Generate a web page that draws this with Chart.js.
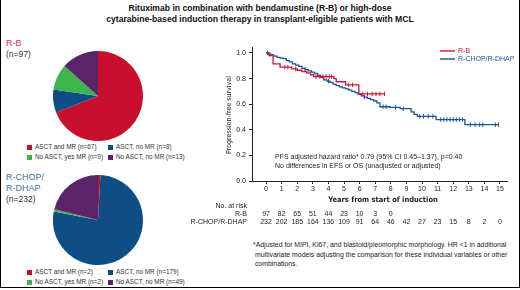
<!DOCTYPE html>
<html>
<head>
<meta charset="utf-8">
<script src="https://cdn.jsdelivr.net/npm/chart.js@4.4.0/dist/chart.umd.min.js"></script>
<style>
  body { margin: 0; width: 520px; height: 290px; position: relative; overflow: hidden; background: #fff;
         font-family: "Liberation Sans", Arial, sans-serif; color: #222; }
  .abs { position: absolute; white-space: nowrap; }
  .frame { position: absolute; left: 0; top: -2px; width: 518px; height: 289px;
           border-left: 1px solid #000; border-right: 1px solid #000; border-bottom: 1px solid #000; }
  .title { left: 0; width: 520px; text-align: center; font-weight: bold; font-size: 8.6px; color: #111; }
  .grp { font-size: 9px; line-height: 10.5px; }
  .leg { font-size: 6.4px; color: #333; line-height: 7px; }
  .leg i { display: inline-block; width: 5px; height: 5px; margin-right: 3px; vertical-align: -0.5px; }
  .note { font-size: 7px; color: #222; line-height: 9px; }
  canvas { position: absolute; }
</style>
</head>
<body>
<div class="frame"></div>
<div class="abs title" style="top:3px">Rituximab in combination with bendamustine (R-B) or high-dose</div>
<div class="abs title" style="top:14px">cytarabine-based induction therapy in transplant-eligible patients with MCL</div>

<div class="abs grp" style="left:6px;top:38px;color:#d0304f">R-B</div>
<div class="abs grp" style="left:6px;top:49px;color:#333;font-size:8.5px">(n=97)</div>

<div class="abs grp" style="left:6px;top:172px;color:#3a76a8">R-CHOP/</div>
<div class="abs grp" style="left:6px;top:183px;color:#3a76a8">R-DHAP</div>
<div class="abs grp" style="left:6px;top:194px;color:#333;font-size:8.5px">(n=232)</div>

<canvas id="pieRB" width="90" height="90" style="left:53px;top:51px"></canvas>
<canvas id="pieRC" width="90" height="90" style="left:53px;top:175px"></canvas>

<div id="legRB"></div>
<div id="legRC"></div>

<canvas id="km" width="340" height="190" style="left:180px;top:40px"></canvas>

<div class="abs note" style="left:275px;top:152px">PFS adjusted hazard ratio* 0.79 (95% CI 0.45–1.37), p=0.40</div>
<div class="abs note" style="left:275px;top:161px">No differences in EFS or OS (unadjusted or adjusted)</div>

<div class="abs note" style="left:253px;top:240px;font-size:6.9px;line-height:9.6px">*Adjusted for MIPI, Ki67, and blastoid/pleomorphic morphology. HR &lt;1 in additional<br>&nbsp;multivariate models adjusting the comparison for these individual variables or other<br>&nbsp;combinations.</div>

<script>
// pie data
const pieLabels = ['ASCT and MR', 'ASCT, no MR', 'No ASCT, yes MR', 'No ASCT, no MR'];
const pieColors = ['#c8102e', '#0f4d85', '#3cb64a', '#5b2469'];
const rbCounts = [67, 8, 9, 13];
const rcCounts = [2, 179, 2, 49];

// Kaplan-Meier steps
const rbTimes = [0, 0.2, 0.45, 0.9, 1.65, 2.0, 2.3, 2.6, 2.85, 3.05, 4.35, 4.5, 5.1, 5.95, 7.6];
const rbSurv  = [1.0, 0.98, 0.915, 0.89, 0.875, 0.865, 0.855, 0.845, 0.83, 0.815, 0.80, 0.775, 0.75, 0.68, 0.68];
const rbCensor = [1.2, 1.4, 1.9, 3.2, 3.45, 3.65, 3.85, 4.05, 4.2, 5.3, 5.55, 6.2, 6.5, 6.8, 7.05, 7.3, 7.6];

const rcTimes = [0, 0.15, 0.3, 0.5, 0.7, 0.9, 1.1, 1.3, 1.5, 1.7, 1.9, 2.1, 2.3, 2.5, 2.7, 2.9, 3.1, 3.3, 3.5,
                 3.7, 3.9, 4.1, 4.3, 4.5, 4.7, 4.9, 5.1, 5.3, 5.5, 5.7, 5.9, 6.1, 6.3, 6.5, 6.7, 6.9, 7.1, 7.3,
                 7.95, 8.6, 9.3, 9.5, 9.7, 10.9, 12.75, 14.9];
const rcSurv  = [1.0, 0.99, 0.985, 0.975, 0.965, 0.96, 0.955, 0.94, 0.93, 0.915, 0.905, 0.895, 0.88, 0.87, 0.86,
                 0.85, 0.84, 0.825, 0.81, 0.79, 0.78, 0.77, 0.755, 0.745, 0.735, 0.727, 0.72, 0.71, 0.70, 0.69,
                 0.676, 0.665, 0.655, 0.645, 0.635, 0.625, 0.61, 0.58, 0.575, 0.565, 0.54, 0.52, 0.505, 0.48, 0.44, 0.44];
const rcCensor = [0.1, 0.25, 2.5, 4.0, 6.3, 7.5, 7.7, 8.3, 8.8, 9.85, 10.1, 10.4, 10.7, 11.2, 11.4, 11.6, 11.8,
                  12.0, 12.2, 12.4, 12.6, 13.1, 13.4, 13.7, 13.9, 14.7, 14.9];

const yearTicks = [0, 1, 2, 3, 4, 5, 6, 7, 8, 9, 10, 11, 12, 13, 14, 15];
const survTicks = [0, 0.2, 0.4, 0.6, 0.8, 1.0];
const rbAtRisk = [97, 82, 65, 51, 44, 23, 10, 3, 0];
const rcAtRisk = [232, 202, 185, 164, 136, 109, 91, 64, 46, 42, 27, 23, 15, 8, 2, 0];

const kmRed = '#d2143a';
const kmBlue = '#1b5792';
const font = '"Liberation Sans", Arial, sans-serif';
const narrow = '"Liberation Sans Narrow", "DejaVu Sans Condensed", "Liberation Sans", sans-serif';

function makePie(id, counts) {
    new Chart(document.getElementById(id), {
        type: 'pie',
        data: { labels: pieLabels, datasets: [{ data: counts, backgroundColor: pieColors, borderWidth: 0 }] },
        options: {
            responsive: false, animation: false,
            plugins: { legend: { display: false }, tooltip: { enabled: false } }
        }
    });
}
makePie('pieRB', rbCounts);
makePie('pieRC', rcCounts);

// pie legends as html, two columns
function makeLegend(id, counts, top) {
    const el = document.getElementById(id);
    const cols = [27, 108];
    counts.forEach((n, i) => {
        const d = document.createElement('div');
        d.className = 'abs leg';
        d.style.left = cols[i % 2] + 'px';
        d.style.top = (top + Math.floor(i / 2) * 10) + 'px';
        d.innerHTML = '<i style="background:' + pieColors[i] + '"></i>' + pieLabels[i] + ' (n=' + n + ')';
        el.appendChild(d);
    });
}
makeLegend('legRB', rbCounts, 143);
makeLegend('legRC', rcCounts, 268);

function survAt(times, surv, t) {
    let s = surv[0];
    for (let i = 0; i < times.length; i++) { if (times[i] <= t) s = surv[i]; }
    return s;
}

const toPts = (ts, ss) => ts.map((t, i) => ({ x: t, y: ss[i] }));
const censorPts = (cs, ts, ss) => cs.map(t => ({ x: t, y: survAt(ts, ss, t) }));

// extra text round the plot: axis titles, legend, numbers at risk
const kmText = {
    id: 'kmText',
    afterDraw(chart) {
        const ctx = chart.ctx;
        const xs = chart.scales.x;
        ctx.save();
        ctx.fillStyle = '#222';
        ctx.textBaseline = 'middle';

        ctx.font = 'bold 7.5px ' + narrow;
        ctx.textAlign = 'center';
        ctx.fillText('Years from start of induction', xs.getPixelForValue(7.5), 160);

        ctx.save();
        ctx.translate(49, 75);
        ctx.rotate(-Math.PI / 2);
        ctx.font = '7px ' + narrow;
        ctx.fillText('Progression-free survival', 0, 0);
        ctx.restore();

        ctx.font = '7px ' + font;
        ctx.textAlign = 'right';
        ctx.fillText('No. at risk', 67, 166);
        ctx.fillText('R-B', 67, 174);
        ctx.fillText('R-CHOP/R-DHAP', 67, 182);
        ctx.textAlign = 'center';
        rbAtRisk.forEach((n, i) => ctx.fillText(String(n), xs.getPixelForValue(yearTicks[i]), 174));
        rcAtRisk.forEach((n, i) => ctx.fillText(String(n), xs.getPixelForValue(yearTicks[i]), 182));

        // legend
        ctx.lineWidth = 1.4;
        ctx.textAlign = 'left';
        [['R-B', kmRed, 11], ['R-CHOP/R-DHAP', kmBlue, 19]].forEach(([t, c, y]) => {
            ctx.strokeStyle = c;
            ctx.beginPath(); ctx.moveTo(260, y); ctx.lineTo(275, y); ctx.stroke();
            ctx.fillStyle = c;
            ctx.fillText(t, 278, y);
        });
        ctx.restore();
    }
};

new Chart(document.getElementById('km'), {
    type: 'line',
    data: {
        datasets: [
            { data: toPts(rbTimes, rbSurv), borderColor: kmRed, borderWidth: 1.3, stepped: true, pointRadius: 0 },
            { data: censorPts(rbCensor, rbTimes, rbSurv), showLine: false, borderColor: kmRed, borderWidth: 1,
              pointStyle: 'line', rotation: 90, pointRadius: 2.2 },
            { data: toPts(rcTimes, rcSurv), borderColor: kmBlue, borderWidth: 1.3, stepped: true, pointRadius: 0 },
            { data: censorPts(rcCensor, rcTimes, rcSurv), showLine: false, borderColor: kmBlue, borderWidth: 1,
              pointStyle: 'line', rotation: 90, pointRadius: 2.2 }
        ]
    },
    options: {
        responsive: false, animation: false,
        layout: { padding: { top: 3, right: 13, left: 0, bottom: 0 } },
        plugins: { legend: { display: false }, tooltip: { enabled: false } },
        scales: {
            x: {
                type: 'linear', min: -0.9, max: 15.45,
                afterBuildTicks: s => { s.ticks = yearTicks.map(v => ({ value: v })); },
                afterFit: s => { s.height = 49; },
                grid: { drawOnChartArea: false, drawTicks: true, tickLength: 3, color: '#222' },
                border: { display: true, color: '#222', width: 1 },
                ticks: { font: { size: 7, family: font }, color: '#222', padding: 1, maxRotation: 0, autoSkip: false }
            },
            y: {
                min: 0, max: 1.045,
                afterBuildTicks: s => { s.ticks = survTicks.map(v => ({ value: v })); },
                afterFit: s => { s.width = 72; },
                grid: { drawOnChartArea: false, drawTicks: true, tickLength: 3, color: '#222' },
                border: { display: true, color: '#222', width: 1 },
                ticks: { font: { size: 7, family: font }, color: '#222', padding: 3,
                         callback: v => v.toFixed(1) }
            }
        }
    },
    plugins: [kmText]
});
</script>
</body>
</html>
